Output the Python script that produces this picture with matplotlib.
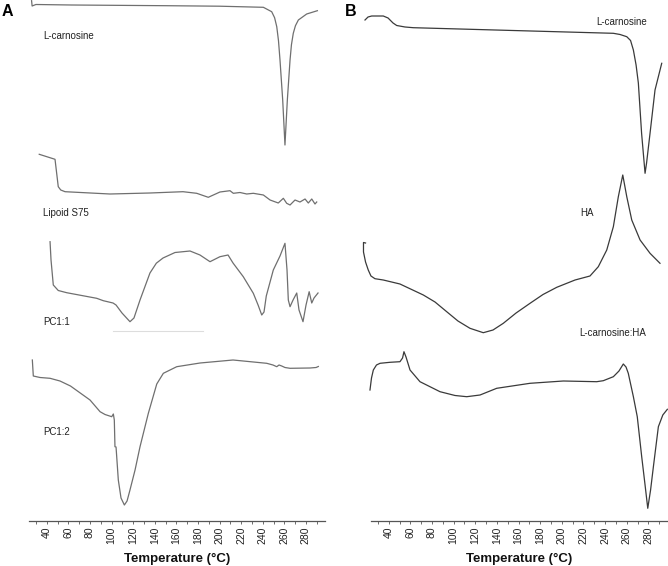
import matplotlib
matplotlib.use("Agg")
import matplotlib.pyplot as plt
from matplotlib.ticker import MultipleLocator

plt.rcParams['font.family'] = ['Liberation Sans', 'DejaVu Sans']

# ---------------- Panel A (heat flow, arbitrary units, curves stacked) -------------
a_carn_T = [26.0, 26.5, 30, 63, 100, 150, 200, 240.6, 248.3, 251.0, 253.0, 254.6, 256.0, 258.5,
            260.6, 262.8, 265.3, 266.6, 268.3, 270.3, 273.0, 280.7, 290.6]
a_carn_h = [520, 514.7, 516.2, 515.7, 515.4, 515, 514.5, 513.4, 509, 503, 494, 480, 460.7, 420.7,
            375.7, 420.7, 460.7, 476, 487.4, 495, 500.7, 506.7, 510]

a_lip_T = [33.1, 47.7, 50.7, 53, 57, 98.6, 135.6, 166.2, 178.9, 189.6, 200.4, 209.7, 212.8,
           219, 225.2, 231.3, 240.6, 246.8, 254.4, 259.1, 262.2, 265.3, 269.9, 274.5, 279.2,
           282.2, 285.4, 288.4, 290]
a_lip_h = [366.4, 361.4, 334, 330.7, 329, 326.7, 327.7, 329, 327.4, 323.4, 328.7, 330, 327.4,
           328.2, 326.7, 327.4, 325.7, 320.7, 317.7, 322.4, 317.4, 315.7, 320.7, 318.7, 321.7,
           317.7, 321.7, 316.7, 318.7]

a_pc11_T = [43.1, 44, 46.1, 50.7, 58.5, 86.3, 92.4, 101.4, 104.2, 109.7, 117.1, 120.8, 126.4,
            135.6, 141.5, 147.7, 158.8, 172.7, 181.9, 191.2, 200.4, 207.9, 212.5, 222, 231.3,
            235.7, 239.1, 241.2, 243.3, 249.8, 256, 260.6, 262.5, 263.7, 265.3, 268.1, 271.5,
            273.6, 277.3, 280.1, 283, 285.4, 287.5, 291.2]
a_pc11_h = [279, 260.7, 235.7, 230.2, 228, 222.4, 220, 217.7, 215.7, 207.7, 199, 202.7, 220.7,
            247.7, 257.5, 262.7, 268.2, 269.7, 265.7, 259, 264, 265.7, 257.7, 244, 227.4,
            215.7, 205.7, 208.7, 224.7, 250.7, 264.7, 277.4, 250.7, 220.7, 214, 220.7, 227.7,
            210.7, 199, 215.7, 229, 217.7, 222.7, 227.7]

a_rule_T = [101.5, 184.8]
a_rule_h = [189.7, 189.7]

a_pc12_T = [26.7, 27.6, 33.8, 43.1, 52.3, 62, 80.1, 89.4, 94, 100.2, 101.7, 102.6, 103.2, 104.2,
            106.3, 108.8, 111.9, 114.4, 117.1, 121.8, 126.4, 134.1, 141.9, 148, 160.4, 182,
            212.5, 243.7, 249.5, 253, 255.1, 257.6, 260.6, 265.3, 283.8, 289.4, 291.5]
a_pc12_h = [160.7, 144.7, 143.2, 142.4, 139.7, 134.7, 120.7, 109, 106.2, 104, 106.7, 100.7, 74,
            73.7, 40.7, 22.7, 15.7, 19.7, 30.7, 50.7, 74, 107.4, 136.7, 147.4, 154, 157.7,
            160.7, 157.4, 155.7, 154, 155.7, 154.7, 153.2, 152.4, 152.7, 153.2, 154.2]

a_labels = ["L-carnosine", "Lipoid S75", "PC1:1", "PC1:2"]
a_label_h = [484.7, 308, 199, 89]

# ---------------- Panel B ----------------
b_carn_T = [18.1, 20.9, 24.3, 35, 39.4, 44, 47.4, 55.1, 62.7, 154.9, 247.6, 253.8, 260, 263.5,
            266.1, 268.6, 270.7, 273.7, 276.9, 278.3, 281.5, 286.1, 292.3]
b_carn_h = [500.7, 503.7, 504.7, 504.7, 502.7, 497.7, 495.2, 493.7, 493, 490.2, 487.4, 486.2,
            484, 480.2, 470.7, 455.7, 437.7, 387.4, 347.4, 357.7, 387.4, 430.7, 457.4]

b_ha_T = [18.6, 16.7, 16.7, 18.6, 21.1, 23.6, 27.3, 35, 50.4, 72, 82.8, 93.6, 104, 115.1, 127.4,
          136.4, 145.9, 157.7, 170.6, 182.6, 195.3, 212.2, 226, 233.7, 241.5, 247.6, 252.2,
          256.3, 260, 264.6, 272.3, 281.5, 290.7]
b_ha_h = [277.7, 278.2, 268.7, 258.7, 250.7, 244.7, 242, 240.7, 236.7, 225.7, 218.7, 209, 199.7,
          192.4, 188, 190.7, 197.4, 207.7, 217.4, 226.2, 233.4, 240.7, 244.7, 254, 270.7, 294,
          324, 345.7, 324, 300.7, 280.7, 267.4, 257.4]

b_mix_T = [22.7, 24.1, 25.8, 28.7, 32, 41.2, 50.4, 52.8, 54.1, 56, 59.7, 68.9, 87.4, 101.3, 112.1,
           124.4, 139.8, 170.6, 201.4, 232.2, 238.3, 247.6, 252.8, 256.8, 259.3, 261.4, 266.1,
           269.7, 273.8, 276.9, 279.4, 282, 284.6, 289.2, 293.3, 297.5]
b_mix_h = [130.7, 142.7, 150.7, 155.7, 157.4, 158.4, 159, 162.7, 169, 163.7, 150.7, 139, 129,
           125.2, 124, 125.7, 132.4, 137.4, 139.7, 139, 140, 144, 149.7, 156.7, 153.7, 147.4,
           124, 104, 64, 35.7, 12.4, 30.7, 54, 94, 105.7, 111.4]

b_labels = ["L-carnosine", "HA", "L-carnosine:HA"]
b_label_T = [278.4, 216.8, 216.2]
b_label_h = [499, 307.4, 187.4]
b_label_ha = ["right", "left", "left"]

tick_major = 20
tick_minor = 10

# ---------------- Figure ----------------
W, H = 668, 566
fig = plt.figure(figsize=(W / 100, H / 100), dpi=100)
bottom = (H - 520.7) / H
height = 520.7 / H

axA = fig.add_axes([0, bottom, 334 / W, height])
axB = fig.add_axes([334 / W, bottom, 334 / W, height])

axA.set_xlim(-3.24, 306.0)
axB.set_xlim(-10.55, 298.1)
for ax in (axA, axB):
    ax.set_ylim(0, 520.7)
    ax.patch.set_alpha(0)
    for s in ("left", "right", "top"):
        ax.spines[s].set_visible(False)
    ax.spines["bottom"].set_color("#555555")
    ax.spines["bottom"].set_linewidth(0.9)
    ax.set_yticks([])
    ax.tick_params(axis="x", which="both", direction="out", length=2.5, width=0.6,
                   color="#555555", labelsize=7.5, labelcolor="#222222", pad=1.5,
                   labelrotation=90)
axA.spines["bottom"].set_bounds(23.6, 297.7)
axB.spines["bottom"].set_bounds(23.4, 298.0)

majors = list(range(40, 281, tick_major))
minors = [t for t in range(30, 298, tick_minor) if t not in majors]
for ax in (axA, axB):
    ax.set_xticks(majors)
    ax.set_xticklabels([str(t) for t in majors])
    ax.set_xticks(minors, minor=True)

colA = "#6f6f6f"
colB = "#3a3a3a"
lw = 0.9
for T, h in ((a_carn_T, a_carn_h), (a_lip_T, a_lip_h), (a_pc11_T, a_pc11_h), (a_pc12_T, a_pc12_h)):
    axA.plot(T, h, color=colA, lw=lw, clip_on=False, solid_joinstyle="round")
axA.plot(a_rule_T, a_rule_h, color="#dddddd", lw=0.8)

for T, h in ((b_carn_T, b_carn_h), (b_ha_T, b_ha_h), (b_mix_T, b_mix_h)):
    axB.plot(T, h, color=colB, lw=lw, clip_on=False, solid_joinstyle="round")

for lab, hh in zip(a_labels, a_label_h):
    axA.text(36.6, hh, lab, fontsize=7, color="#222222", ha="left", va="center")
for lab, T, hh, ha in zip(b_labels, b_label_T, b_label_h, b_label_ha):
    axB.text(T, hh, lab, fontsize=7, color="#222222", ha=ha, va="center")

fig.text(177 / W, 1 - 559 / H, "Temperature (°C)", fontsize=9.5, fontweight="bold",
         ha="center", va="center", color="#111111")
fig.text(519.3 / W, 1 - 559 / H, "Temperature (°C)", fontsize=9.5, fontweight="bold",
         ha="center", va="center", color="#111111")

fig.text(1.5 / W, 1 - 12 / H, "A", fontsize=11.5, fontweight="bold", ha="left", va="center")
fig.text(344.5 / W, 1 - 12 / H, "B", fontsize=11.5, fontweight="bold", ha="left", va="center")

fig.savefig("out.png", dpi=100)
